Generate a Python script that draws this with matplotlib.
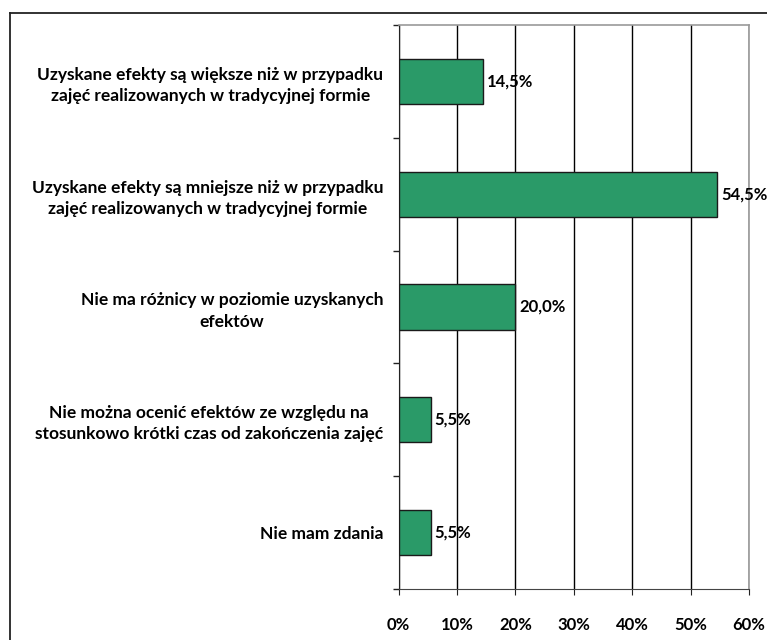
import matplotlib.pyplot as plt
from matplotlib.lines import Line2D

categories = [
    'Uzyskane efekty są większe niż w przypadku\nzajęć realizowanych w tradycyjnej formie',
    'Uzyskane efekty są mniejsze niż w przypadku\nzajęć realizowanych w tradycyjnej formie',
    'Nie ma różnicy w poziomie uzyskanych\nefektów',
    'Nie można ocenić efektów ze względu na\nstosunkowo krótki czas od zakończenia zajęć',
    'Nie mam zdania',
]
values = [14.5, 54.5, 20.0, 5.5, 5.5]
xticks = [0, 10, 20, 30, 40, 50, 60]

plt.rcParams['font.family'] = ['Lato', 'DejaVu Sans']

W, H = 767, 640
fig = plt.figure(figsize=(W / 100, H / 100), dpi=100)
ax = fig.add_axes([398.5 / W, 1 - 589 / H, (749 - 398.5) / W, (589 - 25) / H])

pos = list(range(len(categories)))
ax.barh(pos, values, height=0.4, color='#2A9A68', edgecolor='#1a1a1a',
        linewidth=1.0, zorder=3)
for p, v in zip(pos, values):
    ax.text(v + 0.7, p, f'{v:.1f}%'.replace('.', ','), va='center', ha='left',
            fontsize=12, fontweight='bold', zorder=4)

ax.set_ylim(len(categories) - 0.5, -0.5)
ax.set_xlim(0, 60)
ax.set_xticks(xticks)
ax.set_xticklabels([f'{t}%' for t in xticks], fontsize=12, fontweight='bold')
ax.set_yticks([p - 0.5 for p in range(len(categories) + 1)], minor=False)
ax.set_yticklabels([])
ax.set_yticks(pos, minor=True)
ax.set_yticklabels(categories, minor=True, fontsize=12.5, fontweight='bold',
                   ha='right', multialignment='center', linespacing=1.4)
ax.tick_params(axis='y', which='minor', length=0, pad=11)
ax.tick_params(axis='y', which='major', length=4.5, color='#222222', width=1)
ax.tick_params(axis='x', length=4, direction='out', color='#222222', pad=16)
ax.xaxis.set_ticks_position('bottom')

ax.grid(axis='x', color='black', linewidth=1.0, zorder=0)
for s in ['top', 'right']:
    ax.spines[s].set_color('#9a9a9a')
    ax.spines[s].set_linewidth(1.2)
ax.spines['left'].set_color('#222222')
ax.spines['bottom'].set_color('#444444')

# outer chart border
fig.add_artist(Line2D([9.5 / W, 9.5 / W], [0, 1 - 13 / H], color='#222222', lw=1.3))
fig.add_artist(Line2D([9.5 / W, 1], [1 - 13 / H, 1 - 13 / H], color='#222222', lw=1.3))

fig.savefig('out.png', dpi=100)
